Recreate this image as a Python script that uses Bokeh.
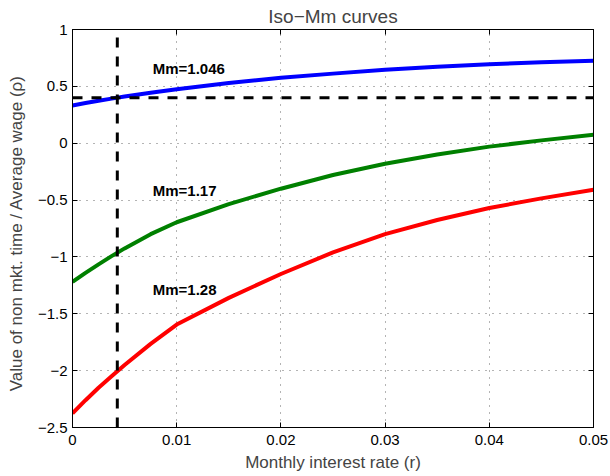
from bokeh.plotting import figure
from bokeh.models import Range1d, FixedTicker, LinearAxis
from bokeh.core.properties import value
from bokeh.embed import file_html
from bokeh.resources import INLINE

# Data
r = [0, 0.00125, 0.0025, 0.00375, 0.005, 0.0075, 0.01, 0.015, 0.02, 0.025, 0.03, 0.035, 0.04, 0.045, 0.05]
rho_1046 = [0.332, 0.353, 0.373, 0.392, 0.41, 0.444, 0.475, 0.53, 0.575, 0.612, 0.645, 0.672, 0.695, 0.712, 0.725]
rho_117 = [-1.22, -1.14, -1.065, -0.993, -0.925, -0.80, -0.695, -0.535, -0.40, -0.28, -0.18, -0.10, -0.03, 0.025, 0.075]
rho_128 = [-2.375, -2.26, -2.15, -2.05, -1.95, -1.765, -1.595, -1.36, -1.15, -0.96, -0.80, -0.675, -0.57, -0.485, -0.41]

r_star = 0.0043
rho_star = 0.4

label_x = [0.0077, 0.0077, 0.0077]
label_y = [0.657, -0.413, -1.285]
label_text = ["Mm=1.046", "Mm=1.17", "Mm=1.28"]

x_ticks = [0, 0.01, 0.02, 0.03, 0.04, 0.05]
x_tick_labels = ["0", "0.01", "0.02", "0.03", "0.04", "0.05"]
y_ticks = [-2.5, -2, -1.5, -1, -0.5, 0, 0.5, 1]
y_tick_labels = ["\u22122.5", "\u22122", "\u22121.5", "\u22121", "\u22120.5", "0", "0.5", "1"]

FONT = "Liberation Sans"

p = figure(width=610, height=476, x_range=Range1d(0, 0.05), y_range=Range1d(-2.5, 1),
           output_backend="svg", toolbar_location=None,
           min_border_left=72, min_border_right=17, min_border_top=29, min_border_bottom=49,
           title="Iso\u2212Mm curves")
p.title.align = "center"
p.title.vertical_align = "top"
p.title.text_font = FONT
p.title.text_font_size = "19px"
p.title.text_font_style = "normal"
p.title.standoff = 2
p.outline_line_color = "black"
p.outline_line_width = 1
p.outline_line_alpha = 1
p.background_fill_color = "white"
p.border_fill_color = "white"

xo = {v: t for v, t in zip(x_ticks, x_tick_labels)}
yo = {v: t for v, t in zip(y_ticks, y_tick_labels)}

def style_axis(ax, ticks, overrides, show_labels):
    ax.ticker = FixedTicker(ticks=ticks)
    ax.major_tick_in = 5
    ax.major_tick_out = 0
    ax.minor_tick_in = 0
    ax.minor_tick_out = 0
    ax.axis_line_color = "black"
    ax.major_tick_line_color = "black"
    ax.major_label_text_font = FONT
    ax.major_label_text_color = "black"
    if show_labels:
        ax.major_label_overrides = overrides
        ax.major_label_text_font_size = "15px"
    else:
        ax.major_label_overrides = {v: "" for v in ticks}
        ax.major_label_text_font_size = "1px"
        ax.major_label_standoff = 0

xa = p.xaxis[0]
style_axis(xa, x_ticks, xo, True)
xa.major_label_standoff = 7
xa.axis_label = "Monthly interest rate (r)"
xa.axis_label_text_font = FONT
xa.axis_label_text_font_size = "17px"
xa.axis_label_text_font_style = "normal"
xa.axis_label_standoff = 5

ya = p.yaxis[0]
style_axis(ya, y_ticks, yo, True)
ya.major_label_standoff = 5
ya.axis_label = "Value of non mkt. time / Average wage   (\u03c1)"
ya.axis_label_text_font = FONT
ya.axis_label_text_font_size = "17px"
ya.axis_label_text_font_style = "normal"
ya.axis_label_standoff = 9

ra = LinearAxis()
style_axis(ra, y_ticks, yo, False)
p.add_layout(ra, "right")
ta = LinearAxis()
style_axis(ta, x_ticks, xo, False)
p.add_layout(ta, "above")

for g in (p.xgrid[0], p.ygrid[0]):
    g.grid_line_color = "#444444"
    g.grid_line_dash = "1 6"
    g.grid_line_width = 1
    g.grid_line_alpha = 0.8
p.xgrid[0].ticker = FixedTicker(ticks=x_ticks)
p.ygrid[0].ticker = FixedTicker(ticks=y_ticks)

p.line(r, rho_1046, line_color="#0000ff", line_width=4)
p.line(r, rho_117, line_color="#008000", line_width=4)
p.line(r, rho_128, line_color="#ff0000", line_width=4)

p.line([r_star, r_star], [-2.5, 1], line_color="black", line_width=3, line_dash="10 9")
p.line([0, 0.05], [rho_star, rho_star], line_color="black", line_width=3, line_dash="10 9")

p.text(x=label_x, y=label_y, text=label_text, text_font=value(FONT), text_font_size="15px",
       text_font_style="bold", text_baseline="middle", text_align="left", text_color="black")

open("out.html", "w").write(file_html(p, INLINE))
